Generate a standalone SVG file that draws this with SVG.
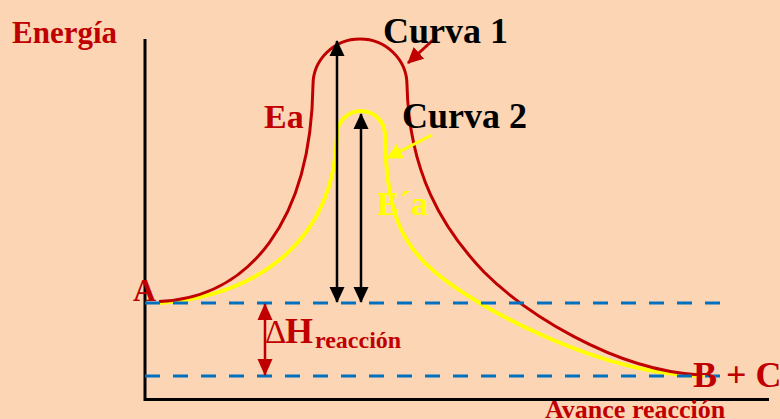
<svg xmlns="http://www.w3.org/2000/svg" width="780" height="419" viewBox="0 0 780 419">
<style>
.t{font-family:"Liberation Serif","Times New Roman",serif;font-weight:bold}
.red{fill:#C00000}
.blk{fill:#000}
.yel{fill:#FFFF00}
.dash{stroke:#0070C0;stroke-width:3.2;stroke-dasharray:15 13;fill:none}
.axis{stroke:#000;stroke-width:3;fill:none}
.barr{stroke:#000;stroke-width:2.5;fill:none;marker-start:url(#hb);marker-end:url(#hb)}
</style>
<defs>
<marker id="hb" markerUnits="userSpaceOnUse" markerWidth="16" markerHeight="16" viewBox="0 0 16 16" refX="15" refY="8" orient="auto-start-reverse"><path d="M0,0.5 L16,8 L0,15.5 Z" fill="#000"/></marker>
<marker id="hr" markerUnits="userSpaceOnUse" markerWidth="17" markerHeight="16" viewBox="0 0 17 16" refX="16" refY="8" orient="auto-start-reverse"><path d="M0,0.5 L17,8 L0,15.5 Z" fill="#C00000"/></marker>
<marker id="hy" markerUnits="userSpaceOnUse" markerWidth="16" markerHeight="16" viewBox="0 0 16 16" refX="15" refY="8" orient="auto"><path d="M0,0 L16,8 L0,16 Z" fill="#FFFF00"/></marker>
<marker id="hr2" markerUnits="userSpaceOnUse" markerWidth="16" markerHeight="16" viewBox="0 0 16 16" refX="15" refY="8" orient="auto"><path d="M0,0 L16,8 L0,16 Z" fill="#C00000"/></marker>
</defs>
<rect width="780" height="419" fill="#FBD5B4"/>
<g id="axes">
<path class="axis" d="M145,39 V399.5 H769"/>
</g>
<g id="curva2">
<path d="M160,303 C260,295 334,240 337,135 A24,24 0 0 1 385,135 C386,212 402,245 436,273 C478,308 600,375 703,376" fill="none" stroke="#FFFF00" stroke-width="4"/>
</g>
<g id="curva1">
<path d="M159,301.5 C250,298 311,220 313,85 A47,46 0 0 1 407,85 C409,172 442,228 484,272 C524,312 612,370 700,375" fill="none" stroke="#C00000" stroke-width="3"/>
</g>
<g id="levels">
<line class="dash" x1="145" y1="303" x2="722" y2="303"/>
<line class="dash" x1="145" y1="376" x2="722" y2="376"/>
</g>
<g id="connectors">
<line class="barr" x1="337" y1="41" x2="337" y2="302"/>
<line class="barr" x1="361" y1="114" x2="361" y2="302"/>
<line x1="265" y1="304" x2="265" y2="375" stroke="#C00000" stroke-width="2.5" marker-start="url(#hr)" marker-end="url(#hr)"/>
<line x1="433" y1="40" x2="408" y2="63" stroke="#C00000" stroke-width="3" marker-end="url(#hr2)"/>
<line x1="432" y1="135" x2="387" y2="158" stroke="#FFFF00" stroke-width="3" marker-end="url(#hy)"/>
</g>
<g id="labels">
<text class="t red" x="12" y="43" font-size="31">Energía</text>
<text class="t blk" x="383" y="43" font-size="36">Curva 1</text>
<text class="t blk" x="402" y="128" font-size="36">Curva 2</text>
<text class="t red" x="264" y="128" font-size="34">Ea</text>
<text class="t yel" x="377" y="215" font-size="34">E´a</text>
<text class="t red" x="133" y="301" font-size="32">A</text>
<text class="red" x="265" y="343" font-size="33" font-family="Liberation Serif, serif">Δ</text>
<text class="t red" x="285" y="343" font-size="36">H</text>
<text class="t red" x="315" y="348" font-size="24">reacción</text>
<text class="t red" x="693" y="387" font-size="36">B + C</text>
<text class="t red" x="545" y="418" font-size="26">Avance reacción</text>
</g>
</svg>
